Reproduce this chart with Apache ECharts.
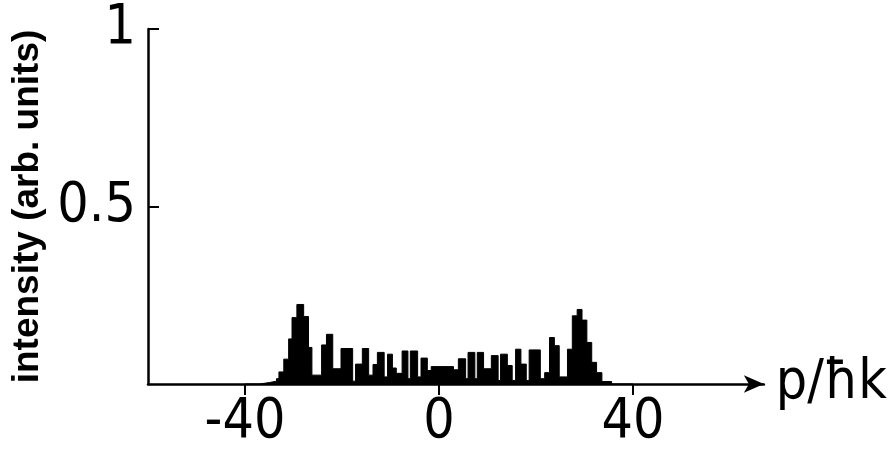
<!DOCTYPE html>
<html>
<head>
<meta charset="utf-8">
<script src="https://cdn.jsdelivr.net/npm/echarts@6/dist/echarts.min.js"></script>
<style>
html,body{margin:0;padding:0;background:#fff;}
#c{width:890px;height:450px;}
</style>
</head>
<body>
<div id="c"></div>
<script>
// Step breakpoints: level stepY[i] holds from stepX[i] to stepX[i+1]
var stepX = [-40, -37.0, -35.0, -33.5, -33.0, -32.0, -31.0, -30.3, -29.3, -27.9, -26.9, -26.2, -24.2, -23.2, -21.9, -20.2, -17.8, -17.2, -15.8, -14.5, -13.6, -12.7, -11.3, -10.6, -9.6, -8.8, -7.6, -6.4, -5.9, -4.4, -3.7, -2.4, -1.6, 3.0, 4.0, 5.5, 6.0, 7.4, 7.9, 9.2, 10.8, 12.2, 12.7, 14.1, 15.1, 15.8, 16.9, 18.0, 18.6, 20.9, 21.8, 22.8, 23.8, 24.8, 26.5, 27.5, 28.5, 29.5, 30.5, 31.5, 32.5, 33.6, 35.6, 40];
var stepY = [0, 0.004, 0.008, 0.015, 0.034, 0.07, 0.127, 0.187, 0.224, 0.19, 0.103, 0.025, 0.11, 0.14, 0.043, 0.10, 0.008, 0.056, 0.10, 0.025, 0.055, 0.089, 0.02, 0.084, 0.045, 0.03, 0.093, 0.015, 0.093, 0.02, 0.073, 0.038, 0.049, 0.04, 0.071, 0.015, 0.089, 0.015, 0.089, 0.043, 0.08, 0.01, 0.084, 0.052, 0.01, 0.098, 0.056, 0.01, 0.096, 0.015, 0.032, 0.131, 0.108, 0.02, 0.098, 0.192, 0.21, 0.18, 0.117, 0.061, 0.032, 0.007, 0, 0];
var xTicks = [-40, 0, 40];
var yTicks = [0.5, 1];
var xName = 'p/ħk';
var yName = 'intensity (arb. units)';

var pts = stepX.map(function (x, i) { return [x, stepY[i]]; });
var font = '"Liberation Sans Narrow", "DejaVu Sans Condensed", "Liberation Sans", sans-serif';
var chart = echarts.init(document.getElementById('c'), null, {renderer: 'canvas'});
chart.setOption({
  animation: false,
  backgroundColor: '#fff',
  grid: {left: 148, right: 117, top: 29, bottom: 63, containLabel: false},
  xAxis: {
    type: 'value', min: -60, max: 67,
    name: xName, nameLocation: 'end', nameGap: 12,
    nameTextStyle: {fontFamily: font, fontSize: 55, color: '#000', verticalAlign: 'middle'},
    axisLine: {show: true, onZero: false, symbol: ['none', 'arrow'], symbolSize: [13, 20], lineStyle: {color: '#000', width: 2.5}},
    axisTick: {show: true, inside: false, length: 11, customValues: xTicks, lineStyle: {color: '#000', width: 2}},
    axisLabel: {show: true, customValues: xTicks, margin: 11, fontFamily: font, fontSize: 55, color: '#000'},
    splitLine: {show: false}
  },
  yAxis: {
    type: 'value', min: 0, max: 1,
    name: yName, nameLocation: 'middle', nameGap: 97,
    nameTextStyle: {fontFamily: '"Liberation Sans", Arial, sans-serif', fontWeight: 'bold', fontSize: 37, color: '#000'},
    axisLine: {show: true, onZero: false, lineStyle: {color: '#000', width: 2.5}},
    axisTick: {show: true, inside: true, length: 11, customValues: yTicks, lineStyle: {color: '#000', width: 2}},
    axisLabel: {show: true, customValues: yTicks, margin: 12, fontFamily: font, fontSize: 55, color: '#000'},
    splitLine: {show: false}
  },
  series: [{
    type: 'line', step: 'end', data: pts, symbol: 'none',
    lineStyle: {color: '#000', width: 1},
    areaStyle: {color: '#000', opacity: 1}
  }]
});
</script>
</body>
</html>
